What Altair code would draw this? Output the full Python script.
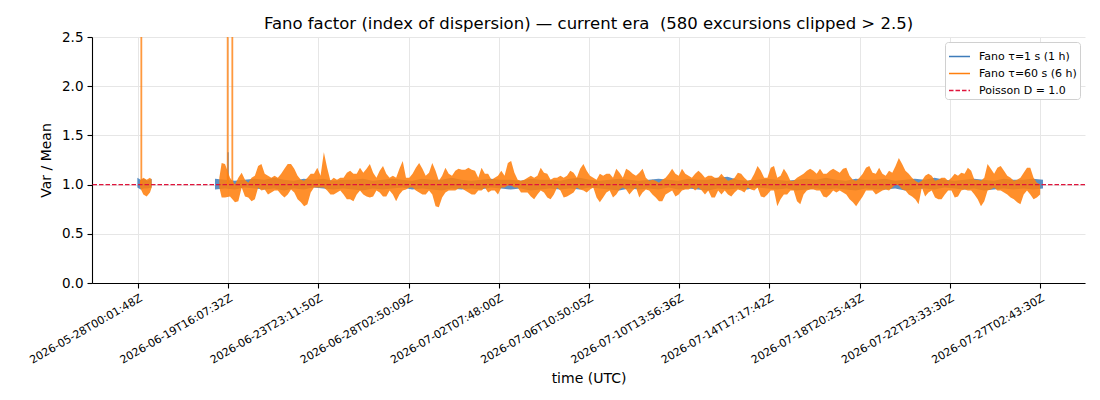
import altair as alt
import pandas as pd

TITLE = "Fano factor (index of dispersion) \u2014 current era \u00a0(580 excursions clipped > 2.5)"
TICK_LABELS = [
    "2026-05-28T00:01:48Z", "2026-06-19T16:07:32Z", "2026-06-23T23:11:50Z",
    "2026-06-28T02:50:09Z", "2026-07-02T07:48:00Z", "2026-07-06T10:50:05Z",
    "2026-07-10T13:56:36Z", "2026-07-14T17:17:42Z", "2026-07-18T20:25:43Z",
    "2026-07-22T23:33:30Z", "2026-07-27T02:43:30Z",
]
TICK_STEP = 270.6          # samples between labelled ticks
X_DOMAIN = [-138, 2841]

SERIES = ["Fano \u03c4=1 s (1 h)", "Fano \u03c4=60 s (6 h)", "Poisson D = 1.0"]
COLORS = ["#3f7cba", "#ff7f0e", "#e0143c"]
DASHES = [[1, 0], [1, 0], [4.5, 2]]

# --- tau = 60 s (orange) : envelope (high / low) of the fast-oscillating trace
OR_A_X = [6, 16, 26, 36, 41]
OR_A_HI = [1.04, 1.07, 1.05, 1.07, 1.05]
OR_A_LO = [0.97, 0.90, 0.88, 0.92, 0.97]

OR_B_X = [244, 251, 261, 276, 291, 301, 311]
OR_B_HI = [1.07, 1.22, 1.21, 1.07, 1.00, 1.07, 1.12]
OR_B_LO = [0.97, 0.87, 0.87, 0.88, 0.82, 0.83, 0.97]

OR_MAIN_START = 321
OR_MAIN_STEP = 345 / 35
OR_MAIN_HI = [
    1.05, 1.02, 1.07, 1.09, 1.19, 1.21, 1.11, 1.09, 1.07, 1.09, 1.07, 1.11, 1.16, 1.21, 1.21, 1.16, 1.09, 1.05,
    1.04, 1.07, 1.11, 1.11, 1.17, 1.09, 1.33, 1.17, 1.04, 1.07, 1.05, 1.07, 1.07, 1.12, 1.14, 1.11, 1.11,
    1.17, 1.12, 1.16, 1.21, 1.12, 1.07, 1.14, 1.19, 1.11, 1.07, 1.09, 1.07, 1.16, 1.24, 1.07, 1.07, 1.11, 1.17,
    1.22, 1.16, 1.09, 1.12, 1.22, 1.14, 1.04, 1.09, 1.17, 1.11, 1.09, 1.14, 1.16, 1.15, 1.15, 1.17, 1.15,
    1.14, 1.07, 1.17, 1.11, 1.11, 1.05, 1.07, 1.09, 1.14, 1.09, 1.22, 1.24, 1.12, 1.05, 1.04, 1.05, 1.07, 1.09,
    1.07, 1.09, 1.17, 1.12, 1.11, 1.05, 1.07, 1.07, 1.09, 1.07, 1.09, 1.14, 1.12, 1.07, 1.16, 1.21, 1.14,
    1.09, 1.07, 1.05, 1.11, 1.09, 1.11, 1.11, 1.07, 1.16, 1.12, 1.07, 1.16, 1.14, 1.11, 1.09, 1.12, 1.16, 1.07,
    1.04, 1.05, 1.04, 1.02, 1.05, 1.07, 1.11, 1.16, 1.11, 1.09, 1.16, 1.11, 1.09, 1.07, 1.11, 1.14, 1.11,
    1.07, 1.09, 1.09, 1.07, 1.07, 1.11, 1.07, 1.04, 1.05, 1.07, 1.12, 1.11, 1.07, 1.04, 1.05, 1.11, 1.19, 1.14,
    1.07, 1.07, 1.17, 1.19, 1.07, 1.09, 1.16, 1.11, 1.04, 1.04, 1.07, 1.09, 1.11, 1.14, 1.16, 1.14, 1.11,
    1.16, 1.11, 1.11, 1.14, 1.16, 1.14, 1.12, 1.16, 1.17, 1.09, 1.05, 1.04, 1.07, 1.11, 1.17, 1.19, 1.12, 1.11,
    1.17, 1.11, 1.09, 1.14, 1.12, 1.19, 1.27, 1.21, 1.14, 1.11, 1.07, 1.04, 1.02, 1.04, 1.09, 1.11, 1.09,
    1.04, 1.05, 1.07, 1.07, 1.04, 1.07, 1.11, 1.09, 1.12, 1.11, 1.17, 1.14, 1.05, 1.05, 1.04, 1.07, 1.21, 1.16,
    1.11, 1.17, 1.19, 1.14, 1.09, 1.07, 1.04, 1.05, 1.07, 1.12, 1.17, 1.17, 1.07, 1.02, 1.00,
]
OR_MAIN_LO = [
    0.88, 0.87, 0.83, 0.85, 0.97, 0.94, 0.95, 0.90, 0.92, 0.94, 0.94, 0.90, 0.87, 0.90, 0.95, 0.92, 0.85, 0.82,
    0.78, 0.80, 0.92, 0.97, 0.97, 0.97, 0.97, 0.94, 0.90, 0.90, 0.92, 0.94, 0.90, 0.85, 0.85, 0.83, 0.90,
    0.94, 0.90, 0.88, 0.87, 0.88, 0.94, 0.92, 0.88, 0.88, 0.94, 0.90, 0.83, 0.90, 0.94, 0.95, 0.97, 0.97, 0.94,
    0.92, 0.90, 0.90, 0.94, 0.90, 0.78, 0.77, 0.87, 0.92, 0.94, 0.94, 0.94, 0.96, 0.96, 0.94, 0.92, 0.90,
    0.90, 0.94, 0.94, 0.97, 0.92, 0.94, 0.94, 0.90, 0.97, 0.97, 0.99, 0.99, 0.97, 0.97, 0.92, 0.92, 0.92, 0.88,
    0.85, 0.90, 0.94, 0.92, 0.87, 0.85, 0.90, 0.97, 0.94, 0.87, 0.88, 0.90, 0.92, 0.97, 0.95, 0.94, 0.92,
    0.95, 0.97, 0.87, 0.82, 0.87, 0.92, 0.94, 0.87, 0.90, 0.95, 0.97, 0.95, 0.90, 0.94, 0.97, 0.87, 0.92, 0.95,
    0.94, 0.90, 0.87, 0.83, 0.83, 0.90, 0.92, 0.94, 0.88, 0.90, 0.94, 0.95, 0.95, 0.97, 0.94, 0.97, 0.94,
    0.90, 0.94, 0.87, 0.87, 0.94, 0.90, 0.94, 0.90, 0.88, 0.92, 0.95, 0.94, 0.92, 0.97, 0.95, 0.94, 0.97, 0.88,
    0.87, 0.90, 0.94, 0.94, 0.78, 0.85, 0.90, 0.90, 0.94, 0.94, 0.83, 0.80, 0.90, 0.94, 0.95, 0.95, 0.94,
    0.94, 0.88, 0.87, 0.90, 0.94, 0.92, 0.94, 0.92, 0.90, 0.85, 0.82, 0.78, 0.83, 0.88, 0.94, 0.94, 0.94, 0.90,
    0.92, 0.94, 0.95, 0.94, 0.97, 1.00, 0.99, 0.95, 0.94, 0.90, 0.88, 0.85, 0.80, 0.97, 0.88, 0.92, 0.94,
    0.87, 0.85, 0.85, 0.90, 0.94, 0.94, 0.87, 0.88, 0.94, 0.95, 0.94, 0.94, 0.90, 0.85, 0.78, 0.83, 0.94, 0.95,
    0.97, 0.94, 0.94, 0.92, 0.90, 0.87, 0.85, 0.82, 0.80, 0.90, 0.94, 0.90, 0.85, 0.87, 0.90,
]

# --- tau = 1 s (blue) : envelope
BL_A_X = [-2, 8, 18, 28, 41]
BL_A_HI = [1.07, 1.05, 1.06, 1.04, 1.06]
BL_A_LO = [0.97, 0.95, 0.96, 0.96, 0.97]

BL_B_START = 231
BL_B_STEP = 3 * 345 / 35
BL_B_HI = [
    1.06, 1.05, 1.04, 1.05, 1.06, 1.05, 1.07, 1.05, 1.04, 1.06, 1.05, 1.06, 1.04, 1.05, 1.05, 1.06, 1.04,
    1.05, 1.06, 1.05, 1.04, 1.06, 1.05, 1.05, 1.07, 1.05, 1.04, 1.05, 1.06, 1.05, 1.05, 1.04, 1.06, 1.05,
    1.05, 1.04, 1.06, 1.07, 1.05, 1.04, 1.05, 1.06, 1.05, 1.04, 1.05, 1.06, 1.05, 1.04, 1.06, 1.05, 1.05,
    1.07, 1.08, 1.05, 1.04, 1.05, 1.06, 1.05, 1.04, 1.05, 1.06, 1.05, 1.07, 1.05, 1.04, 1.06, 1.05, 1.05,
    1.06, 1.04, 1.05, 1.06, 1.05, 1.07, 1.05, 1.04, 1.05, 1.06, 1.05, 1.04, 1.06, 1.05, 1.05, 1.06, 1.05,
]
BL_B_LO = [
    0.95, 0.96, 0.95, 0.97, 0.96, 0.95, 0.96, 0.94, 0.96, 0.95, 0.97, 0.96, 0.95, 0.96, 0.95, 0.94, 0.96,
    0.95, 0.96, 0.97, 0.95, 0.96, 0.95, 0.94, 0.96, 0.95, 0.96, 0.95, 0.97, 0.96, 0.95, 0.96, 0.94, 0.95,
    0.96, 0.95, 0.96, 0.95, 0.97, 0.96, 0.95, 0.94, 0.96, 0.95, 0.96, 0.95, 0.97, 0.95, 0.96, 0.95, 0.94,
    0.96, 0.95, 0.96, 0.95, 0.97, 0.96, 0.95, 0.96, 0.94, 0.95, 0.96, 0.95, 0.96, 0.95, 0.94, 0.96, 0.95,
    0.95, 0.96, 0.94, 0.95, 0.96, 0.95, 0.97, 0.96, 0.95, 0.96, 0.94, 0.95, 0.96, 0.95, 0.96, 0.95, 0.96,
]

# clipped excursions (> 2.5) and the single visible blue excursion
OR_SPIKE_X = [10, 269, 283]
OR_SPIKE_TOP = [2.5, 2.5, 2.5]
BL_SPIKE_X = [270]
BL_SPIKE_TOP = [1.33]
POISSON_D = 1.0


def band(xs, hi, lo, series, seg):
    return pd.DataFrame({"x": xs, "hi": hi, "lo": lo, "series": series, "seg": seg})


orange_main_x = [OR_MAIN_START + i * OR_MAIN_STEP for i in range(len(OR_MAIN_HI))]
blue_b_x = [BL_B_START + i * BL_B_STEP for i in range(len(BL_B_HI))]

df_orange = pd.concat([
    band(OR_A_X, OR_A_HI, OR_A_LO, SERIES[1], "a"),
    band(OR_B_X + orange_main_x, OR_B_HI + OR_MAIN_HI, OR_B_LO + OR_MAIN_LO, SERIES[1], "b"),
])
df_blue = pd.concat([
    band(BL_A_X, BL_A_HI, BL_A_LO, SERIES[0], "a"),
    band(blue_b_x, BL_B_HI, BL_B_LO, SERIES[0], "b"),
])
df_or_spike = pd.DataFrame({"x": OR_SPIKE_X, "top": OR_SPIKE_TOP, "base": POISSON_D, "series": SERIES[1]})
df_bl_spike = pd.DataFrame({"x": BL_SPIKE_X, "top": BL_SPIKE_TOP, "base": POISSON_D, "series": SERIES[0]})
df_poisson = pd.DataFrame({"y": [POISSON_D], "series": [SERIES[2]]})

tick_values = [i * TICK_STEP for i in range(len(TICK_LABELS))]
label_expr = "[" + ",".join("'%s'" % t for t in TICK_LABELS) + "][round(datum.value / %s)]" % TICK_STEP

FONT = "DejaVu Sans"

legend = alt.Legend(
    title=None, orient="top-right", offset=5, symbolType="stroke", symbolSize=441,
    symbolStrokeWidth=1.5, symbolOpacity=1, labelFontSize=11, labelFont=FONT, labelColor="black",
    labelOffset=8, fillColor="white", strokeColor="#d0d0d0", cornerRadius=3, padding=3, rowPadding=-5.5,
)
color = alt.Color("series:N", scale=alt.Scale(domain=SERIES, range=COLORS), legend=legend)
dash = alt.StrokeDash("series:N", scale=alt.Scale(domain=SERIES, range=DASHES), legend=legend)

x_enc = alt.X(
    "x:Q", scale=alt.Scale(domain=X_DOMAIN, nice=False, zero=False),
    axis=alt.Axis(values=tick_values, labelExpr=label_expr, labelAngle=-30, labelAlign="right",
                  labelBaseline="top", labelFontSize=11, labelOverlap=False, title="time (UTC)",
                  titleFontSize=14, titlePadding=6),
)
y_scale = alt.Scale(domain=[0, 2.5], nice=False)
y_axis = alt.Axis(values=[0, 0.5, 1.0, 1.5, 2.0, 2.5], format=".1f", labelFontSize=13.5,
                  title="Var / Mean", titleFontSize=14, titlePadding=8)

blue_area = alt.Chart(df_blue).mark_area(opacity=0.85, interpolate="linear", color=COLORS[0]).encode(
    x=x_enc, y=alt.Y("hi:Q", scale=y_scale, axis=y_axis), y2="lo:Q", detail="seg:N")
blue_spike = alt.Chart(df_bl_spike).mark_rule(strokeWidth=1.5, opacity=0.85).encode(
    x="x:Q", y="base:Q", y2="top:Q", color=color, strokeDash=dash)
orange_area = alt.Chart(df_orange).mark_area(opacity=0.88, interpolate="linear", color=COLORS[1]).encode(
    x="x:Q", y="hi:Q", y2="lo:Q", detail="seg:N")
orange_spike = alt.Chart(df_or_spike).mark_rule(strokeWidth=1.8, opacity=0.8).encode(
    x="x:Q", y="base:Q", y2="top:Q", color=color, strokeDash=dash)
poisson = alt.Chart(df_poisson).mark_rule(strokeWidth=1.3).encode(
    y="y:Q", color=color, strokeDash=dash)

chart = alt.layer(blue_area, blue_spike, orange_area, orange_spike, poisson).properties(
    width=993, height=246,
    title=alt.Title(TITLE, fontSize=16.5, font=FONT, fontWeight="normal", color="black", offset=8, dy=10),
    autosize=alt.AutoSizeParams(type="none"),
    padding={"left": 84, "top": 29, "right": 7, "bottom": 109},
).configure_view(stroke=None).configure_axis(
    labelFont=FONT, titleFont=FONT, titleFontWeight="normal", labelColor="black", titleColor="black",
    domainColor="black", domainWidth=1.1, tickColor="black", tickSize=5, tickWidth=1.1,
    labelPadding=4, gridColor="#e6e6e6", gridWidth=1,
)

chart.save("out.html", embed_options={"renderer": "svg", "actions": False})
